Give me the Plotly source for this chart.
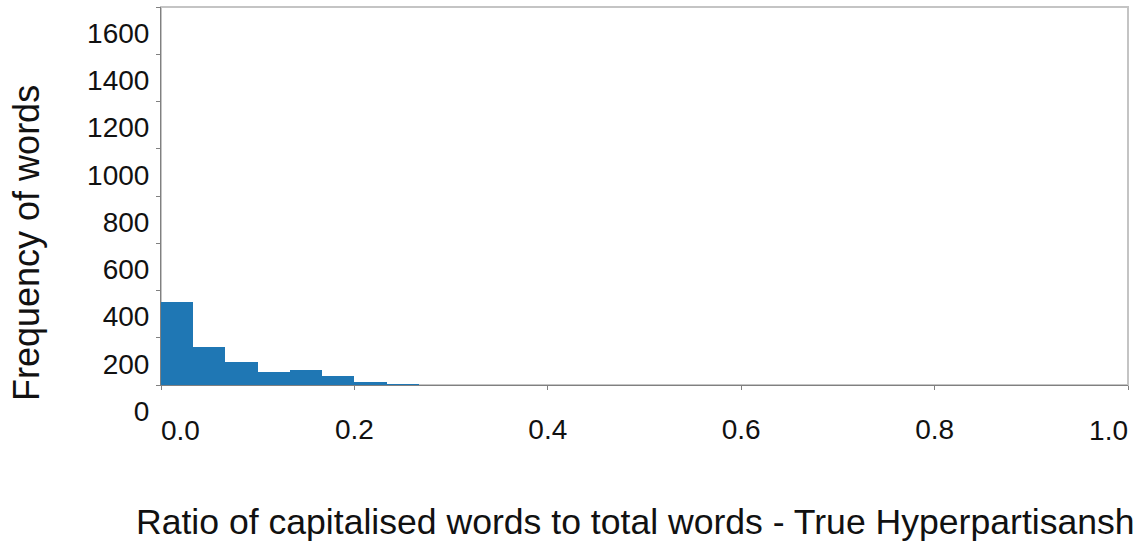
import plotly.graph_objects as go

# ---- data ----
bin_edges = [0.0, 1/30, 2/30, 3/30, 4/30, 5/30, 6/30, 7/30, 8/30]
counts = [350, 162, 96, 55, 65, 37, 14, 4]

x_tick_vals = [0.0, 0.2, 0.4, 0.6, 0.8, 1.0]
x_tick_text = ["0.0", "0.2", "0.4", "0.6", "0.8", "1.0"]
y_tick_vals = [0, 200, 400, 600, 800, 1000, 1200, 1400, 1600]
y_tick_text = ["0", "200", "400", "600", "800", "1000", "1200", "1400", "1600"]

x_title = "Ratio of capitalised words to total words - True Hyperpartisansh"
y_title = "Frequency of words"

FONT = "Liberation Sans, Arial, sans-serif"
BAR = "#1f77b4"

bin_left = bin_edges[:-1]
bin_widths = [b - a for a, b in zip(bin_edges[:-1], bin_edges[1:])]

fig = go.Figure()
fig.add_trace(go.Bar(
    x=bin_left, y=counts, width=bin_widths, offset=0,
    marker=dict(color=BAR, line=dict(width=0)),
    showlegend=False, hoverinfo="x+y",
))
# empty helper traces so the overlaying label axes get drawn
for ax in ("x2", "x3"):
    fig.add_trace(go.Scatter(x=[None], y=[None], xaxis=ax, yaxis="y",
                             mode="markers", showlegend=False, hoverinfo="skip"))

tickfont = dict(family=FONT, size=28, color="#111111")
LBL_STANDOFF = 15
END_STANDOFF = 26

fig.update_layout(
    width=1143, height=545,
    margin=dict(l=161, r=15, t=7, b=160, autoexpand=False),
    paper_bgcolor="white", plot_bgcolor="white",
    bargap=0,
    font=dict(family=FONT, color="#111111"),
    xaxis=dict(
        range=[0, 1], showgrid=False, zeroline=False,
        showline=True, linecolor="#808080", linewidth=1,
        ticks="outside", ticklen=4, tickcolor="#808080",
        tickvals=x_tick_vals,
        ticktext=["", "0.2", "0.4", "0.6", "0.8", ""],
        tickfont=tickfont, ticklabelstandoff=LBL_STANDOFF,
        automargin=False,
    ),
    xaxis2=dict(
        range=[0, 1], overlaying="x", anchor="y", side="bottom",
        showgrid=False, zeroline=False, showline=False, ticks="",
        tickvals=[x_tick_vals[0]], ticktext=[x_tick_text[0]],
        ticklabelposition="outside right", ticklabeloverflow="allow",
        tickfont=tickfont, ticklabelstandoff=END_STANDOFF, automargin=False,
    ),
    xaxis3=dict(
        range=[0, 1], overlaying="x", anchor="y", side="bottom",
        showgrid=False, zeroline=False, showline=False, ticks="",
        tickvals=[x_tick_vals[-1]], ticktext=[x_tick_text[-1]],
        ticklabelposition="outside left", ticklabeloverflow="allow",
        tickfont=tickfont, ticklabelstandoff=END_STANDOFF, automargin=False,
    ),
    yaxis=dict(
        range=[0, 1600], showgrid=False, zeroline=False,
        showline=True, linecolor="#808080", linewidth=1,
        ticks="outside", ticklen=4, tickcolor="#808080",
        tickvals=y_tick_vals, ticktext=y_tick_text,
        tickfont=tickfont, ticklabelshift=26, ticklabelstandoff=1,
        ticklabeloverflow="allow",
        automargin=False,
    ),
    shapes=[dict(type="rect", xref="paper", yref="paper", x0=0, x1=1, y0=0, y1=1,
                 line=dict(color="#c4c4c4", width=2), layer="below")],
    annotations=[
        dict(
            text=y_title, xref="paper", yref="paper",
            x=(26 - 161) / 967, y=(385 - 243) / 378,
            xanchor="center", yanchor="middle", textangle=-90, showarrow=False,
            font=dict(family=FONT, size=36, color="#111111"),
        ),
        dict(
            text=x_title, xref="paper", yref="paper",
            x=(134 - 161) / 967, y=(385 - 522) / 378,
            xanchor="left", yanchor="middle", showarrow=False,
            font=dict(family=FONT, size=35.6, color="#111111"),
        ),
    ],
)

fig.write_html("out.html", config={"displayModeBar": False},
               post_script="document.body.style.margin='0';document.body.style.padding='0';")
